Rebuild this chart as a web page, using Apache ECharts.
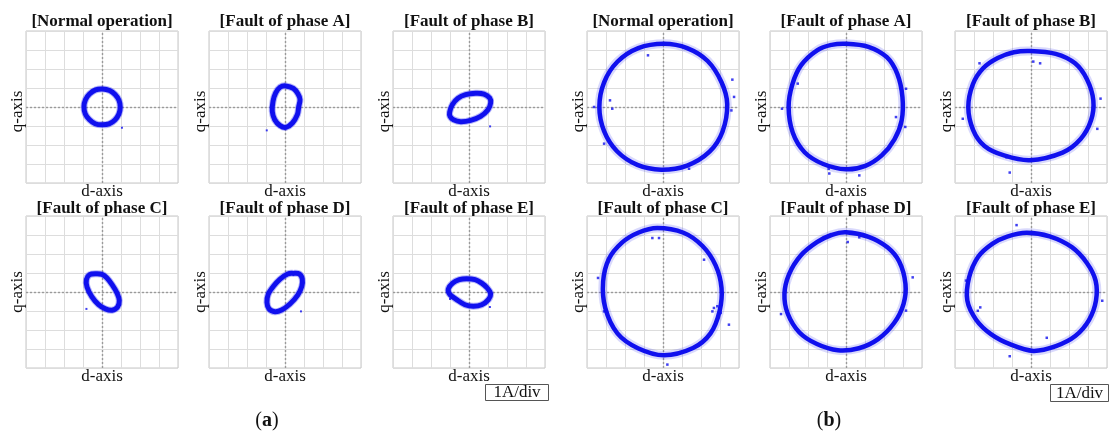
<!DOCTYPE html>
<html>
<head>
<meta charset="utf-8">
<script src="https://cdn.jsdelivr.net/npm/echarts@6/dist/echarts.min.js"></script>
<style>
  html, body { margin: 0; padding: 0; background: #fff; }
  #chart { width: 1110px; height: 434px; }
</style>
</head>
<body>
<div id="chart"></div>
<script>
// ---- Data: d-q current trajectories, 1 A per division ----
const panelTitles = [
  '[Normal operation]', '[Fault of phase A]', '[Fault of phase B]',
  '[Fault of phase C]', '[Fault of phase D]', '[Fault of phase E]',
  '[Normal operation]', '[Fault of phase A]', '[Fault of phase B]',
  '[Fault of phase C]', '[Fault of phase D]', '[Fault of phase E]'
];
const groupLabels = ['a', 'b'];
const scaleLabel = '1A/div';
const axisNames = { d: 'd-axis', q: 'q-axis' };

// (a) trajectory loops [id, iq]
const loopA_Normal = [[0.03,0.95],[0.40,0.87],[0.69,0.66],[0.89,0.36],[0.96,0.00],[0.89,-0.37],[0.68,-0.68],[0.37,-0.89],[0.00,-0.94],[-0.36,-0.88],[-0.67,-0.66],[-0.88,-0.36],[-0.95,0.02],[-0.87,0.38],[-0.66,0.68],[-0.34,0.90]];
const loopA_FaultA = [[0.04,1.11],[0.44,0.98],[0.68,0.70],[0.79,0.39],[0.72,0.00],[0.65,-0.40],[0.39,-0.84],[0.05,-1.07],[-0.26,-0.98],[-0.54,-0.67],[-0.67,-0.23],[-0.63,0.30],[-0.49,0.74],[-0.26,1.04]];
const loopA_FaultB = [[-1.02,-0.28],[-0.88,0.12],[-0.58,0.46],[-0.18,0.65],[0.35,0.72],[0.79,0.68],[1.09,0.47],[1.14,0.21],[1.00,-0.14],[0.61,-0.49],[0.09,-0.70],[-0.44,-0.77],[-0.82,-0.67],[-1.00,-0.49]];
const loopA_FaultC = [[-0.32,0.96],[0.00,0.93],[0.26,0.74],[0.53,0.39],[0.79,-0.05],[0.91,-0.44],[0.82,-0.79],[0.53,-0.96],[0.18,-0.89],[-0.18,-0.67],[-0.53,-0.26],[-0.79,0.26],[-0.82,0.65],[-0.65,0.91]];
const loopA_FaultD = [[0.44,0.98],[0.75,0.95],[0.91,0.68],[0.88,0.28],[0.67,-0.16],[0.26,-0.63],[-0.18,-0.95],[-0.53,-1.04],[-0.84,-0.89],[-0.95,-0.54],[-0.88,-0.11],[-0.61,0.30],[-0.26,0.68],[0.14,0.95]];
const loopA_FaultE = [[-1.09,0.16],[-0.86,0.47],[-0.51,0.65],[-0.12,0.70],[0.32,0.65],[0.67,0.47],[0.96,0.21],[1.14,-0.09],[1.02,-0.40],[0.67,-0.67],[0.23,-0.75],[-0.21,-0.67],[-0.65,-0.40],[-1.00,-0.14]];

// (b) trajectory loops [id, iq]
const loopB_Normal = [[0.05,3.33],[1.27,3.10],[2.35,2.42],[3.08,1.30],[3.38,0.15],[3.13,-1.30],[2.45,-2.35],[1.27,-3.08],[-0.10,-3.30],[-1.35,-3.05],[-2.42,-2.33],[-3.10,-1.27],[-3.35,0.00],[-3.10,1.30],[-2.40,2.38],[-1.30,3.10]];
const loopB_FaultA = [[0.00,3.33],[1.18,3.17],[2.15,2.62],[2.70,1.74],[2.97,0.53],[2.93,-0.70],[2.55,-1.70],[1.88,-2.55],[1.02,-3.10],[0.00,-3.28],[-1.20,-3.00],[-2.18,-2.38],[-2.80,-1.36],[-3.02,0.00],[-2.82,1.20],[-2.36,2.20],[-1.52,2.98],[-0.76,3.27]];
const loopB_FaultB = [[-0.05,2.95],[1.30,2.80],[2.32,2.30],[2.95,1.45],[3.28,0.35],[3.16,-0.70],[2.60,-1.70],[1.66,-2.40],[-0.05,-2.80],[-1.42,-2.55],[-2.45,-2.05],[-3.05,-1.20],[-3.30,0.00],[-3.06,1.20],[-2.52,2.04],[-1.75,2.58],[-0.90,2.88]];
const loopB_FaultC = [[-0.30,3.37],[1.08,3.12],[2.08,2.42],[2.77,1.40],[3.08,0.21],[2.98,-1.00],[2.50,-2.18],[1.58,-2.95],[0.05,-3.33],[-1.32,-2.96],[-2.40,-2.18],[-3.04,-0.84],[-3.15,0.56],[-2.85,1.74],[-2.16,2.60],[-1.31,3.12]];
const loopB_FaultD = [[0.00,3.14],[1.19,2.90],[2.18,2.35],[2.80,1.60],[3.13,0.42],[3.03,-0.62],[2.54,-1.62],[1.69,-2.48],[0.68,-2.96],[-0.43,-3.07],[-1.53,-2.74],[-2.45,-2.13],[-3.07,-1.13],[-3.24,-0.11],[-3.00,0.93],[-2.37,1.93],[-1.53,2.62],[-0.77,3.00]];
const loopB_FaultE = [[-0.23,3.12],[0.98,2.93],[2.15,2.36],[2.94,1.53],[3.40,0.60],[3.42,-0.46],[3.05,-1.48],[2.33,-2.32],[1.31,-2.85],[0.12,-3.10],[-1.08,-2.76],[-2.09,-2.23],[-2.88,-1.47],[-3.35,-0.46],[-3.26,0.76],[-2.78,1.86],[-2.02,2.55],[-1.25,2.92]];

// isolated samples off the main trajectory
const strayA_Normal = [[1.05,-1.09]];
const strayA_FaultA = [[-0.96,-1.23]];
const strayA_FaultB = [[1.11,-1.02]];
const strayA_FaultC = [[-0.82,-0.89]];
const strayA_FaultD = [[0.84,-1.02]];
const strayA_FaultE = [[-1.00,-0.37],[1.10,-0.79]];
const strayB_Normal = [[-0.79,2.72],[-2.79,0.35],[-2.67,-0.09],[3.65,1.44],[3.60,-0.18],[1.37,-3.25],[-3.10,-1.93],[-3.63,0.00],[3.74,0.53]];
const strayB_FaultA = [[-0.91,-3.25],[-0.88,-3.50],[-3.37,-0.09],[3.16,0.96],[3.12,-1.05],[2.63,-0.53],[-2.54,1.23],[0.70,-3.60]];
const strayB_FaultB = [[0.12,2.39],[0.48,2.30],[-3.59,-0.62],[3.66,0.44],[-1.12,-3.45],[3.49,-1.15],[-2.71,2.30],[-1.29,-2.65]];
const strayB_FaultC = [[2.68,-0.84],[2.86,-0.75],[2.60,-1.02],[3.04,-1.10],[3.47,-1.72],[-0.56,2.84],[-0.21,2.84],[-3.42,0.74],[0.23,-3.82],[2.16,1.70],[-3.10,-1.02]];
const strayB_FaultD = [[0.09,2.63],[0.70,2.88],[3.51,0.77],[-3.42,-1.16],[3.16,-0.98],[0.70,-2.91]];
const strayB_FaultE = [[-0.76,3.52],[-2.67,-0.81],[-2.80,-0.99],[0.83,-2.41],[-1.12,-3.38],[3.75,-0.46],[-3.42,0.60],[1.19,-2.94]];

const loops = [loopA_Normal, loopA_FaultA, loopA_FaultB, loopA_FaultC, loopA_FaultD, loopA_FaultE,
               loopB_Normal, loopB_FaultA, loopB_FaultB, loopB_FaultC, loopB_FaultD, loopB_FaultE];
const strays = [strayA_Normal, strayA_FaultA, strayA_FaultB, strayA_FaultC, strayA_FaultD, strayA_FaultE,
                strayB_Normal, strayB_FaultA, strayB_FaultB, strayB_FaultC, strayB_FaultD, strayB_FaultE];
const axisMin = -4, axisMax = 4, axisStep = 1;

// ---- Layout ----
const colLeft = [26, 209, 393, 587, 770, 955];
const rowTop = [31, 216];
const boxSize = 152;
const serif = '"Liberation Serif", "Times New Roman", serif';
const ink = '#111';
const blue = '#1010ee';

// closed Catmull-Rom curve through pixel points
function closedCurvePath(pts) {
  const n = pts.length;
  let d = 'M' + pts[0][0] + ',' + pts[0][1];
  for (let i = 0; i < n; i++) {
    const p0 = pts[(i - 1 + n) % n], p1 = pts[i], p2 = pts[(i + 1) % n], p3 = pts[(i + 2) % n];
    const c1 = [p1[0] + (p2[0] - p0[0]) / 6, p1[1] + (p2[1] - p0[1]) / 6];
    const c2 = [p2[0] - (p3[0] - p1[0]) / 6, p2[1] - (p3[1] - p1[1]) / 6];
    d += 'C' + c1[0] + ',' + c1[1] + ' ' + c2[0] + ',' + c2[1] + ' ' + p2[0] + ',' + p2[1];
  }
  return d + 'Z';
}

const grids = [], xAxes = [], yAxes = [], series = [], graphics = [];

loops.forEach((loop, i) => {
  const g = Math.floor(i / 6), k = i % 6;
  const row = Math.floor(k / 3), col = g * 3 + (k % 3);
  const left = colLeft[col], top = rowTop[row];
  const wide = g === 1;

  grids.push({ left, top, width: boxSize, height: boxSize, show: true,
    borderColor: '#c6c6c6', borderWidth: 1, backgroundColor: '#fff' });

  xAxes.push({ gridIndex: i, type: 'value', min: axisMin, max: axisMax, interval: axisStep,
    axisLine: { show: false, onZero: false }, axisTick: { show: false }, axisLabel: { show: false },
    splitLine: { show: true, lineStyle: { color: '#dddddd', width: 1 } },
    name: axisNames.d, nameLocation: 'middle', nameGap: 0,
    nameTextStyle: { fontFamily: serif, fontSize: 17, color: ink } });

  yAxes.push({ gridIndex: i, type: 'value', min: axisMin, max: axisMax, interval: axisStep,
    axisLine: { show: false, onZero: false }, axisTick: { show: false }, axisLabel: { show: false },
    splitLine: { show: true, lineStyle: { color: '#dddddd', width: 1 } },
    name: axisNames.q, nameLocation: 'middle', nameGap: 0,
    nameTextStyle: { fontFamily: serif, fontSize: 17, color: ink,
      padding: row === 0 ? [0, 9, 0, 0] : 0 } });

  // dotted centre cross (d = 0, q = 0)
  series.push({ type: 'line', xAxisIndex: i, yAxisIndex: i, data: [], silent: true, z: 1,
    markLine: { silent: true, symbol: 'none', z: 1, label: { show: false },
      lineStyle: { color: '#9a9a9a', type: [2, 2], width: 1.4 },
      data: [{ xAxis: 0 }, { yAxis: 0 }] } });

  // trajectory: haze band plus solid core, drawn as one closed curve
  series.push({ type: 'custom', coordinateSystem: 'cartesian2d', xAxisIndex: i, yAxisIndex: i,
    data: loop, encode: { x: 0, y: 1 }, silent: true, z: 3, clip: false,
    renderItem: (params, api) => {
      if (params.dataIndex !== 0) return null;
      const pathData = closedCurvePath(loop.map(p => api.coord(p)));
      return { type: 'group', children: [
        { type: 'path', shape: { pathData },
          style: { fill: 'none', stroke: blue, lineWidth: wide ? 9 : 7, opacity: wide ? 0.16 : 0.3 } },
        { type: 'path', shape: { pathData },
          style: { fill: 'none', stroke: blue, lineWidth: wide ? 4.5 : 5 } }
      ] };
    } });

  series.push({ type: 'scatter', xAxisIndex: i, yAxisIndex: i, data: strays[i], silent: true, z: 4,
    symbol: 'rect', symbolSize: wide ? 2.5 : 2, itemStyle: { color: blue, opacity: 0.8 } });

  graphics.push({ type: 'text', x: left + boxSize / 2, y: row === 0 ? 22 : 208.5,
    style: { text: panelTitles[i], font: 'bold 17px ' + serif, fill: ink,
      textAlign: 'center', textVerticalAlign: 'middle' } });
});

// scale boxes
[[485, 384, 63, 16], [1050, 384, 58, 17]].forEach(([x, y, w, h]) => {
  graphics.push({ type: 'rect', shape: { x: x + 0.5, y: y + 0.5, width: w, height: h },
    style: { fill: '#fff', stroke: '#555', lineWidth: 1 } });
  graphics.push({ type: 'text', x: x + w / 2 + 0.5, y: y + h / 2 + 1,
    style: { text: scaleLabel, font: '17px ' + serif, fill: ink,
      textAlign: 'center', textVerticalAlign: 'middle' } });
});

// sub-figure labels
[[267, 421], [829, 421]].forEach(([x, y], j) => {
  graphics.push({ type: 'text', x, y,
    style: { text: '(' + '{b|' + groupLabels[j] + '}' + ')', font: '20px ' + serif, fill: ink,
      textAlign: 'center', textVerticalAlign: 'middle',
      rich: { b: { fontWeight: 'bold', fontSize: 20, fontFamily: serif, fill: ink } } } });
});

const chart = echarts.init(document.getElementById('chart'), null, { renderer: 'canvas' });
chart.setOption({
  animation: false,
  backgroundColor: '#fff',
  grid: grids,
  xAxis: xAxes,
  yAxis: yAxes,
  series,
  graphic: graphics
});
</script>
</body>
</html>
